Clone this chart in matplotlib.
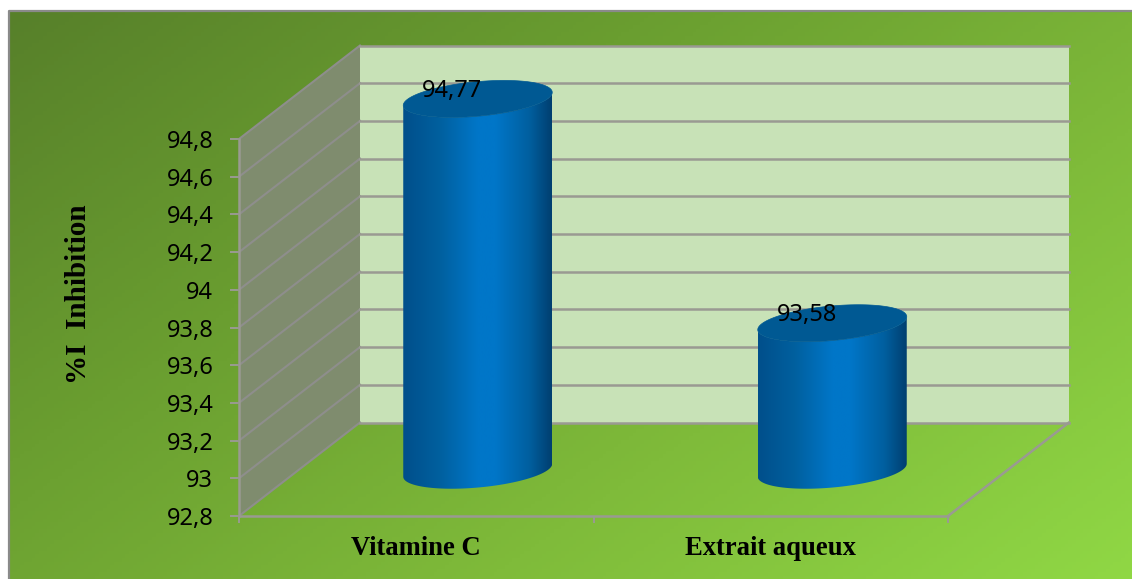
import numpy as np
import matplotlib
matplotlib.use("Agg")
import matplotlib.pyplot as plt
from matplotlib.colors import LinearSegmentedColormap
from matplotlib.patches import Polygon, PathPatch
from matplotlib.path import Path

# chart values
categories = ['Vitamine C', 'Extrait aqueux']
inhibition = [94.77, 93.58]
value_labels = ['94,77', '93,58']
y_ticks = [92.8, 93, 93.2, 93.4, 93.6, 93.8, 94, 94.2, 94.4, 94.6, 94.8]
y_tick_labels = ['92,8', '93', '93,2', '93,4', '93,6', '93,8', '94', '94,2', '94,4', '94,6', '94,8']
y_label = '%I  Inhibition'

W, H = 1132, 579
GREY = '#9a9a92'
WALL_LINE = '#8e8e8c'

fig = plt.figure(figsize=(W / 100, H / 100), dpi=100, facecolor='white')

# background panel with a diagonal green gradient
bg = fig.add_axes([0, 0, 1, 1], zorder=0)
bg.axis('off')
xx, yy = np.meshgrid(np.linspace(0, 1, 300), np.linspace(0, 1, 160))
t = 0.58 * xx + 0.42 * yy
bg_cmap = LinearSegmentedColormap.from_list('panel', ['#57802a', '#6a9e30', '#7fbb3a', '#90d845'])
bg.imshow(t, cmap=bg_cmap, vmin=0, vmax=1, extent=[9, W + 4, H + 4, 11], aspect='auto')
bg.set_xlim(0, W)
bg.set_ylim(H, 0)
bg.plot([9, 9, W], [H, 11, 11], color='#8a8a8a', lw=1.6)

# the axes sit on the front plane of the 3D box
ax = fig.add_axes([239 / W, (H - 516) / H, 709 / W, 377 / H], zorder=1)
ax.patch.set_visible(False)
ax.set_xlim(0, len(categories))
ax.set_ylim(y_ticks[0], y_ticks[-1])

ymin, ymax = ax.get_ylim()
px_x = 709 / 2
px_y = 377 / (ymax - ymin)
depth_x = 121 / px_x
depth_y = 93.5 / px_y


def deep(x, y, d):
    # shift a point towards the back of the box, d=0 front, d=1 back
    return x + d * depth_x, y + d * depth_y


# back wall and side wall
corners = [deep(0, ymin, 1), deep(2, ymin, 1), deep(2, ymax, 1), deep(0, ymax, 1)]
ax.add_patch(Polygon(corners, fc='#c8e2b7', ec='none', clip_on=False, zorder=1))
side = [deep(0, ymin, 0), deep(0, ymin, 1), deep(0, ymax, 1), deep(0, ymax, 0)]
ax.add_patch(Polygon(side, fc='#7f8c6e', ec='none', clip_on=False, zorder=1))

# gridlines run along the side wall and across the back wall
for v in y_ticks:
    xs, ys = zip(deep(0, v, 0), deep(0, v, 1))
    ax.plot(xs, ys, color=WALL_LINE, lw=1.5, clip_on=False, zorder=2)
    xs, ys = zip(deep(0, v, 1), deep(2, v, 1))
    ax.plot(xs, ys, color=GREY, lw=1.8, clip_on=False, zorder=2)

# floor edge on the right
xs, ys = zip(deep(2, ymin, 0), deep(2, ymin, 1))
ax.plot(xs, ys, color=GREY, lw=1.8, clip_on=False, zorder=2)

# cylinders
half_w = 74.5 / px_x
shear = 6.5 / px_y
half_h = 17.3 / px_y
side_cmap = LinearSegmentedColormap.from_list(
    'cyl', [(0, '#004f8b'), (0.25, '#00609f'), (0.5, '#0076c8'), (0.62, '#0076c8'),
            (0.85, '#005f9f'), (1, '#003f70')])
theta = np.linspace(0, 2 * np.pi, 120)
ramp = np.linspace(0, 1, 256)[None, :]

for i, val in enumerate(inhibition):
    cx, base = deep(i + 0.5, ymin, 0.5)
    cx += 1 / px_x
    base -= 1 / px_y
    top = base + (val - ymin)

    u = np.cos(theta)
    v = np.sin(theta)
    ex = cx + half_w * u
    ey_off = shear * u + half_h * v

    # body outline: bottom half of the base ellipse, then up to the top ellipse
    low = np.linspace(np.pi, 2 * np.pi, 60)
    body = np.concatenate([
        np.column_stack([cx + half_w * np.cos(low), base + shear * np.cos(low) + half_h * np.sin(low)]),
        np.column_stack([cx + half_w * np.cos(low[::-1]), top + shear * np.cos(low[::-1]) + half_h * np.sin(low[::-1])]),
    ])
    clip = PathPatch(Path(np.vstack([body, body[0]])), transform=ax.transData, fc='none', ec='none')
    ax.add_patch(clip)
    clip.set_clip_on(False)
    im = ax.imshow(ramp, cmap=side_cmap, aspect='auto', zorder=3, interpolation='bilinear',
                   extent=[cx - half_w, cx + half_w, base - 2 * half_h, top + 2 * half_h])
    im.set_clip_box(fig.bbox)
    im.set_clip_path(clip)

    ax.add_patch(Polygon(np.column_stack([ex, top + ey_off]), fc='#005993', ec='#005993', lw=0.5,
                         clip_on=False, zorder=4))

    # value label sits above and right of the front-plane position
    ax.annotate(value_labels[i], (i + 0.5, val), xytext=(36 * 0.72, 54 * 0.72),
                textcoords='offset points', ha='center', va='center',
                family='Noto Sans', fontsize=17, color='black', zorder=5, annotation_clip=False)

ax.set_xlim(0, len(categories))
ax.set_ylim(ymin, ymax)

# axes, ticks and labels
for name in ['top', 'right']:
    ax.spines[name].set_visible(False)
for name in ['left', 'bottom']:
    ax.spines[name].set_color(GREY)
    ax.spines[name].set_linewidth(1.8)
    ax.spines[name].set_zorder(2)

ax.set_yticks(y_ticks)
ax.set_yticklabels(y_tick_labels, family='Noto Sans', fontsize=17)
ax.tick_params(axis='y', length=6.5, width=1.4, color=GREY, pad=12)
ax.set_xticks([0, 1, 2])
ax.set_xticklabels([])
ax.tick_params(axis='x', which='major', length=5, width=1.4, color=GREY)
ax.set_xticks([0.5, 1.5], minor=True)
ax.set_xticklabels(categories, minor=True, family='Liberation Serif', fontweight='bold', fontsize=19.2)
ax.tick_params(axis='x', which='minor', length=0, pad=14.5)

fig.text(78 / W, 1 - 294 / H, y_label, rotation=90, ha='center', va='center',
         family='Liberation Serif', fontweight='bold', fontsize=21)

fig.savefig('out.png', dpi=100)
